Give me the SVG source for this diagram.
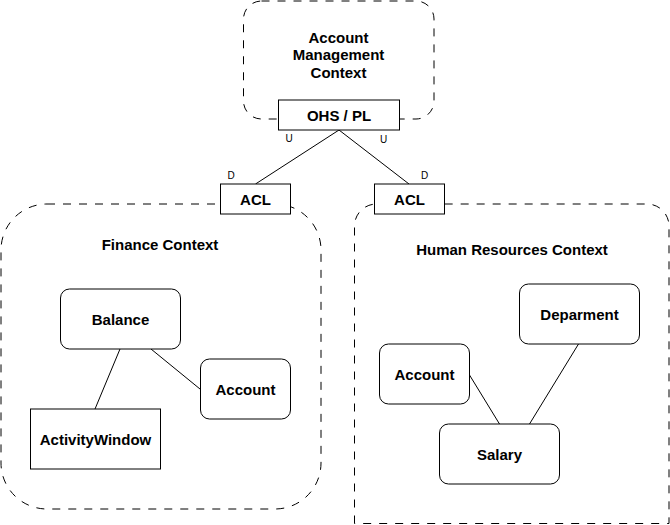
<svg xmlns="http://www.w3.org/2000/svg" width="670" height="525" viewBox="0 0 670 525">
<style>
.ctx{fill:none;stroke:#000;stroke-width:1;stroke-dasharray:8 8}
.box{fill:#fff;stroke:#000;stroke-width:1}
.lbl{font-family:"Liberation Sans",Arial,sans-serif;font-size:15px;font-weight:bold;text-anchor:middle;fill:#000}
.sm{font-family:"Liberation Sans",Arial,sans-serif;font-size:10px;text-anchor:middle;fill:#000}
.conn{fill:none;stroke:#000;stroke-width:1}
</style>
<rect width="670" height="525" fill="#fff"/>
<g id="account-management-context">
<rect class="ctx" x="243.5" y="1" width="190.5" height="118" rx="18" ry="18"/>
<text class="lbl" x="338.5" y="42.5">Account</text>
<text class="lbl" x="338.5" y="60">Management</text>
<text class="lbl" x="338.5" y="77.5">Context</text>
</g>
<g id="finance-context">
<rect class="ctx" x="1" y="204" width="320" height="305" rx="46" ry="46"/>
<text class="lbl" x="160" y="250">Finance Context</text>
</g>
<g id="hr-context">
<path class="ctx" d="M354.5,523.5 V226 A22,22 0 0 1 376.5,204 H647 A22,22 0 0 1 669,226 V523.5 H354.5 Z"/>
<text class="lbl" x="512" y="255">Human Resources Context</text>
</g>
<g id="connectors">
<line class="conn" x1="339" y1="130" x2="255.5" y2="184"/>
<line class="conn" x1="339" y1="130" x2="409" y2="184"/>
<line class="conn" x1="120" y1="349" x2="95" y2="409"/>
<line class="conn" x1="151" y1="349" x2="200" y2="389"/>
<line class="conn" x1="469.5" y1="375" x2="499.5" y2="424"/>
<line class="conn" x1="578.5" y1="344" x2="529.5" y2="424"/>
<text class="sm" x="289" y="142">U</text>
<text class="sm" x="383.5" y="143">U</text>
<text class="sm" x="231" y="178.5">D</text>
<text class="sm" x="424.5" y="178.5">D</text>
</g>
<g id="ohs-pl">
<rect class="box" x="278.5" y="100" width="121" height="30"/>
<text class="lbl" x="339" y="120.5">OHS / PL</text>
</g>
<g id="acl-finance">
<rect class="box" x="220.5" y="184" width="70" height="30"/>
<text class="lbl" x="255.5" y="204.5">ACL</text>
</g>
<g id="acl-hr">
<rect class="box" x="374.5" y="184" width="70" height="30"/>
<text class="lbl" x="409.5" y="204.5">ACL</text>
</g>
<g id="balance">
<rect class="box" x="60.5" y="289" width="120" height="60" rx="9" ry="9"/>
<text class="lbl" x="120.5" y="324.5">Balance</text>
</g>
<g id="finance-account">
<rect class="box" x="200.5" y="359" width="90" height="60" rx="9" ry="9"/>
<text class="lbl" x="245.5" y="394.5">Account</text>
</g>
<g id="activity-window">
<rect class="box" x="30.5" y="409" width="130" height="60"/>
<text class="lbl" x="95.5" y="444.5">ActivityWindow</text>
</g>
<g id="deparment">
<rect class="box" x="519.5" y="284" width="120" height="60" rx="9" ry="9"/>
<text class="lbl" x="579.5" y="319.5">Deparment</text>
</g>
<g id="hr-account">
<rect class="box" x="379.5" y="344" width="90" height="60" rx="9" ry="9"/>
<text class="lbl" x="424.5" y="379.5">Account</text>
</g>
<g id="salary">
<rect class="box" x="439.5" y="424" width="120" height="60" rx="9" ry="9"/>
<text class="lbl" x="499.5" y="459.5">Salary</text>
</g>
</svg>
